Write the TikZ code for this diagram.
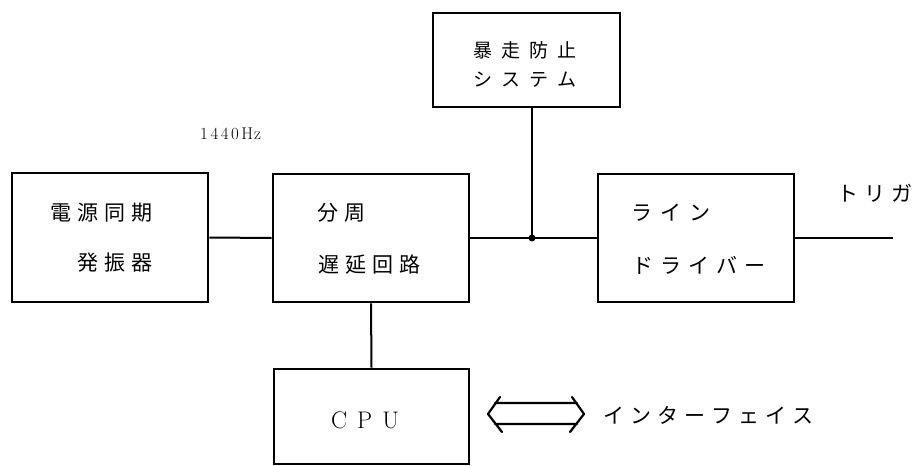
\documentclass[tikz,border=0pt]{standalone}
\usepackage{fontspec}
\newfontfamily\jp{Noto Sans CJK JP}
\makeatletter
\newcommand\spc[2]{\def\sp@first{1}\@tfor\sp@c:=#2\do{\ifx\sp@first\empty\kern#1\fi\def\sp@first{}\sp@c}}
\makeatother
\begin{document}
\begin{tikzpicture}[x=1pt,y=-1pt,
  blk/.style={draw,line width=2.8pt,rectangle,inner sep=0pt},
  wire/.style={line width=2pt},
  lbl/.style={anchor=west,inner sep=0pt,font=\jp\fontsize{21}{24}\selectfont},
  slbl/.style={anchor=west,inner sep=0pt,font=\jp\fontsize{19}{22}\selectfont}]
\useasboundingbox (0,0) rectangle (924,466);
% boxes
\node[blk,minimum width=196pt,minimum height=129pt] (osc) at (110,237.5) {};
\node[blk,minimum width=196pt,minimum height=128pt] (div) at (371,238) {};
\node[blk,minimum width=187pt,minimum height=94pt] (stop) at (526.5,60) {};
\node[blk,minimum width=196pt,minimum height=128pt] (drv) at (696,238) {};
\node[blk,minimum width=195pt,minimum height=95pt] (cpu) at (371.5,416.5) {};
% texts
\node[lbl] (t1) at (50,213) {\spc{6pt}{電源同期}};
\node[lbl] (t2) at (77,263) {\spc{6pt}{発振器}};
\node[lbl] (t3) at (317,213) {\spc{6pt}{分周}};
\node[lbl] (t4) at (318,265) {\spc{6pt}{遅延回路}};
\node[lbl] (t5) at (631,213) {\spc{8pt}{ライン}};
\node[lbl] (t6) at (632,265) {\spc{7pt}{ドライバー}};
\node[slbl] (t7) at (473,50) {\spc{9pt}{暴走防止}};
\node[slbl] (t8) at (473,80) {\spc{9pt}{システム}};
\node[lbl] (t9) at (837,193) {\spc{6pt}{トリガ}};
\node[lbl] (t10) at (603,415) {\spc{6pt}{インターフェイス}};
\node[anchor=west,inner sep=0pt,font=\fontsize{17}{20}\selectfont] (hz) at (200,134) {1\kern2.5pt4\kern2.5pt4\kern2.5pt0\kern2.5ptH\kern1ptz};
\node[anchor=west,inner sep=0pt,font=\fontsize{24}{28}\selectfont] (cpuT) at (331,420) {C\kern10ptP\kern10ptU};
% connectors
\coordinate (j) at (532,238);
\coordinate (out) at (893,238);
\draw[wire] (osc.east) -- (div.west);
\draw[wire] (div.east) -- (drv.west);
\draw[wire] (j) -- (j |- stop.south);
\draw[wire] (drv.east) -- (out);
\draw[wire] (div.south) -- (cpu.north);
\fill (j) circle (3.5pt);
% double arrow
\draw[line width=2.2pt,line join=round,line cap=round]
  (500,397) -- (488,414) -- (502,432)
  (572,397) -- (584,414) -- (570,432)
  (495,403) -- (577,403)
  (495,424) -- (577,424);
\end{tikzpicture}
\end{document}
